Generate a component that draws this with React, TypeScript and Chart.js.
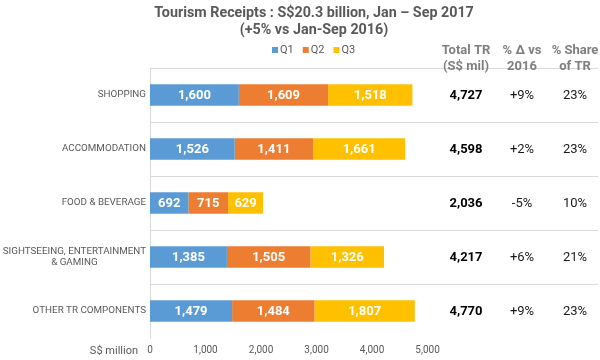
import { useEffect, useRef } from 'react';
import { Chart, registerables } from 'chart.js';

Chart.register(...registerables);

const categories: string[][] = [
  ['SHOPPING'],
  ['ACCOMMODATION'],
  ['FOOD & BEVERAGE'],
  ['SIGHTSEEING, ENTERTAINMENT', '& GAMING'],
  ['OTHER TR COMPONENTS'],
];
const seriesNames = ['Q1', 'Q2', 'Q3'];
const seriesColors = ['#5b9bd5', '#ed7d31', '#ffc000'];
const q1Values = [1600, 1526, 692, 1385, 1479];
const q2Values = [1609, 1411, 715, 1505, 1484];
const q3Values = [1518, 1661, 629, 1326, 1807];
const totalTR = [4727, 4598, 2036, 4217, 4770];
const changeVs2016 = ['+9%', '+2%', '-5%', '+6%', '+9%'];
const shareOfTR = ['23%', '23%', '10%', '21%', '23%'];
const xTickValues = [0, 1000, 2000, 3000, 4000, 5000];
const titleLines = ['Tourism Receipts : S$20.3 billion, Jan \u2013 Sep 2017', '(+5% vs Jan-Sep 2016)'];
const tableHeaders = [
  ['Total TR', '(S$ mil)'],
  ['% \u0394 vs', '2016'],
  ['% Share', 'of TR'],
];
const axisUnitLabel = 'S$ million';

const FONT = 'Roboto, "Noto Sans", sans-serif';
const fmt = (v: number) => v.toLocaleString('en-US');

export default function App() {
  const canvasRef = useRef<HTMLCanvasElement | null>(null);

  useEffect(() => {
    const canvas = canvasRef.current;
    if (!canvas) return;

    const dataLabels = {
      id: 'dataLabels',
      afterDatasetsDraw(chart: any) {
        const ctx = chart.ctx;
        ctx.save();
        ctx.font = `bold 13px ${FONT}`;
        ctx.fillStyle = '#ffffff';
        ctx.textAlign = 'center';
        ctx.textBaseline = 'middle';
        chart.data.datasets.forEach((ds: any, i: number) => {
          const meta = chart.getDatasetMeta(i);
          meta.data.forEach((el: any, j: number) => {
            const { x, base, y } = el.getProps(['x', 'base', 'y'], true);
            ctx.fillText(fmt(ds.data[j]), (x + base) / 2, y + 1);
          });
        });
        ctx.restore();
      },
    };

    const overlay = {
      id: 'overlay',
      afterDraw(chart: any) {
        const ctx = chart.ctx;
        const yScale = chart.scales.y;
        ctx.save();
        // Title
        ctx.fillStyle = '#595959';
        ctx.textAlign = 'center';
        ctx.textBaseline = 'middle';
        ctx.font = `bold 14.3px ${FONT}`;
        ctx.fillText(titleLines[0], 314, 13);
        ctx.fillText(titleLines[1], 314, 30);

        // Legend
        ctx.font = `11px ${FONT}`;
        ctx.textAlign = 'left';
        let lx = 272;
        seriesNames.forEach((name, i) => {
          ctx.fillStyle = seriesColors[i];
          ctx.fillRect(lx, 47, 6, 6);
          ctx.fillStyle = '#595959';
          ctx.fillText(name, lx + 8, 50.5);
          lx += 8 + ctx.measureText(name).width + 9;
        });

        // Category labels (right-aligned block, lines centred within it)
        ctx.font = `9.8px ${FONT}`;
        ctx.fillStyle = '#595959';
        ctx.textAlign = 'center';
        const labelRight = yScale.right - 4;
        categories.forEach((lines, i) => {
          const yc = yScale.getPixelForTick(i);
          const widest = Math.max(...lines.map((l) => ctx.measureText(l).width));
          const cx = labelRight - widest / 2;
          const lh = 11.5;
          lines.forEach((l, k) => {
            ctx.fillText(l, cx, yc + (k - (lines.length - 1) / 2) * lh);
          });
        });

        // Table headers
        const colX = [466, 522, 575];
        ctx.textAlign = 'center';
        ctx.fillStyle = '#7f7f7f';
        ctx.font = `bold 13px ${FONT}`;
        tableHeaders.forEach((lines, c) => {
          lines.forEach((t, r) => ctx.fillText(t, colX[c], 51 + r * 16));
        });

        // Table values
        categories.forEach((_, i) => {
          const y = yScale.getPixelForValue(i) + 1;
          ctx.fillStyle = '#000000';
          ctx.font = `bold 13px ${FONT}`;
          ctx.fillText(fmt(totalTR[i]), colX[0], y);
          ctx.fillStyle = '#1a1a1a';
          ctx.font = `13px ${FONT}`;
          ctx.fillText(changeVs2016[i], colX[1], y);
          ctx.fillText(shareOfTR[i], colX[2], y);
        });

        // Axis unit label
        ctx.fillStyle = '#595959';
        ctx.font = `11px ${FONT}`;
        ctx.textAlign = 'right';
        ctx.fillText(axisUnitLabel, 138, 351);
        ctx.restore();
      },
    };

    const datasetValues = [q1Values, q2Values, q3Values];
    const chart = new Chart(canvas, {
      type: 'bar',
      data: {
        labels: categories,
        datasets: seriesNames.map((name, i) => ({
          label: name,
          data: datasetValues[i],
          backgroundColor: seriesColors[i],
          borderWidth: 0,
          categoryPercentage: 1,
          barPercentage: 0.4,
        })),
      },
      options: {
        indexAxis: 'y',
        animation: false,
        responsive: false,
        layout: { padding: { top: 68, right: 2, bottom: 3, left: 0 } },
        plugins: {
          legend: { display: false },
          title: { display: false },
          tooltip: { enabled: false },
        },
        scales: {
          x: {
            stacked: true,
            min: 0,
            max: 8070,
            afterBuildTicks: (scale: any) => {
              scale.ticks = xTickValues.map((v) => ({ value: v }));
            },
            afterFit: (scale: any) => {
              scale.height = 19;
            },
            grid: { display: false, drawTicks: false },
            border: { display: false },
            ticks: {
              padding: 6,
              color: '#595959',
              font: { family: FONT, size: 10 },
              callback: (v: any) => fmt(Number(v)),
              maxRotation: 0,
            },
          },
          y: {
            stacked: true,
            afterFit: (scale: any) => {
              scale.width = 150;
            },
            grid: {
              drawTicks: false,
              color: (c: any) => (c.index < categories.length ? '#d9d9d9' : 'rgba(0,0,0,0)'),
            },
            border: { color: '#d9d9d9' },
            ticks: { display: false },
          },
        },
      },
      plugins: [dataLabels, overlay],
    });

    return () => chart.destroy();
  }, []);

  return (
    <div style={{ position: 'absolute', left: 0, top: 0, width: 600, height: 360, background: '#fff' }}>
      <canvas ref={canvasRef} width={600} height={360} />
    </div>
  );
}
